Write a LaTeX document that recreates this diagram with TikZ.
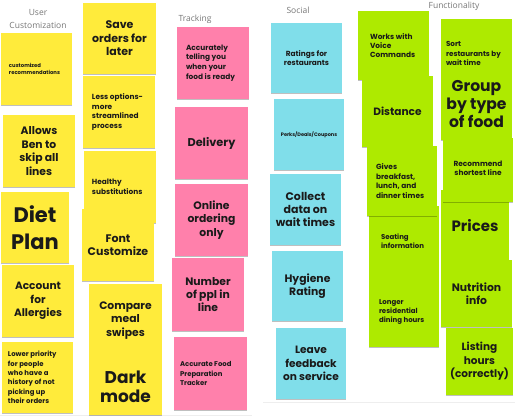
\documentclass[tikz,border=0pt]{standalone}
\usepackage{fontspec}
\setmainfont{Poppins}
\newfontfamily\hdrfont{Open Sans}
\usetikzlibrary{shadows}
\definecolor{stYellow}{HTML}{FFEB3B}
\definecolor{stPink}{HTML}{FF80AB}
\definecolor{stCyan}{HTML}{80DEEA}
\definecolor{stLime}{HTML}{AEEA00}
\definecolor{hdrGray}{HTML}{777777}
\definecolor{stInk}{HTML}{1A1A1A}
\definecolor{frameLine}{HTML}{EEEEEE}
\tikzset{
  stickybox/.style={draw=none, inner sep=0pt,
    drop shadow={shadow xshift=0.4pt, shadow yshift=-1pt, opacity=0.25, fill=black}},
  stxt/.style={inner sep=0pt, text=stInk},
  hdr/.style={inner sep=0pt, text=hdrGray, align=center, font=\hdrfont\fontsize{8.5}{13}\selectfont},
}
% name, cx, cy, w, h, fill
\newcommand\stk[6]{\node[stickybox, fill=#6, minimum width=#4pt, minimum height=#5pt] (#1) at (#2pt,-#3pt) {};}
% centered text: name, size, skip, text
\newcommand\ctx[4]{\node[stxt, align=center, font=\bfseries\fontsize{#2}{#3}\selectfont] (#1t) at (#1) {#4};}
% left text: name, pad, size, skip, text
\newcommand\ltx[5]{\node[stxt, align=left, anchor=west, font=\bfseries\fontsize{#3}{#4}\selectfont] (#1t) at ([xshift=#2pt]#1.west) {#5};}
\begin{document}
\begin{tikzpicture}[x=1pt,y=1pt]
\useasboundingbox (0,0) rectangle (515,-418);
\fill[white] (0,0) rectangle (515,-418);
% faint frame edges
\draw[frameLine, line width=0.8pt] (0,-415.5) -- (252,-415.5);
\draw[frameLine, line width=0.8pt] (263,-402.5) -- (515,-402.5);

% headers
\node[hdr] (hUser) at (38,-19.5) {User\\Customization};
\node[hdr] (hTrack) at (195,-19) {Tracking};
\node[hdr] (hSocial) at (298,-10) {Social};
\node[hdr] (hFunc) at (454,-6) {Functionality};

% ---- User customization (yellow) ----
\stk{cust}{36.5}{69}{71}{72}{stYellow}
\ltx{cust}{8}{5.3}{6.4}{customized\\recommendations}
\stk{save}{119.5}{38.5}{73}{71}{stYellow}
\ctx{save}{11}{13.4}{Save\\orders for\\later}
\stk{less}{119}{112}{72}{72}{stYellow}
\ltx{less}{9}{7.4}{9.6}{Less options-\\more\\streamlined\\process}
\stk{allows}{39}{151}{72}{72}{stYellow}
\ctx{allows}{10.8}{13.4}{Allows\\Ben to\\skip all\\lines}
\stk{healthy}{120}{187}{72}{72}{stYellow}
\ltx{healthy}{8}{7.4}{9.6}{Healthy\\substitutions}
\stk{fontc}{118}{245}{72}{72}{stYellow}
\ctx{fontc}{11}{13}{Font\\Customize}
\stk{diet}{35}{227.5}{68}{71}{stYellow}
\ctx{diet}{21}{27}{Diet\\Plan}
\stk{account}{38}{301}{72}{72}{stYellow}
\ctx{account}{10.6}{13.4}{Account\\for\\Allergies}
\stk{compare}{125.5}{320.5}{73}{73}{stYellow}
\ctx{compare}{10.8}{13.4}{Compare\\meal\\swipes}
\stk{dark}{125.5}{383.5}{73}{63}{stYellow}
\node[stxt, align=center, font=\bfseries\fontsize{17}{19}\selectfont] (darkt) at ([yshift=-3pt]dark.center) {Dark\\mode};
\stk{lower}{37.5}{377.5}{71}{71}{stYellow}
\ltx{lower}{6}{6.9}{9.3}{Lower priority\\for people\\who have a\\history of not\\picking up\\their orders}

% ---- Tracking (pink) ----
\stk{accurately}{213}{63}{72}{72}{stPink}
\ltx{accurately}{9}{7.4}{9.6}{Accurately\\telling you\\when your\\food is ready}
\stk{delivery}{211.5}{143}{73}{72}{stPink}
\ctx{delivery}{11.3}{13.4}{Delivery}
\stk{online}{211.5}{220}{73}{72}{stPink}
\ctx{online}{10.8}{13.4}{Online\\ordering\\only}
\stk{number}{208}{294.5}{72}{73}{stPink}
\ctx{number}{10.8}{13.4}{Number\\of ppl in\\line}
\stk{accfood}{210.5}{373.5}{73}{73}{stPink}
\ltx{accfood}{6}{6.9}{9.4}{Accurate Food\\Preparation\\Tracker}

% ---- Social (cyan) ----
\stk{ratings}{306.5}{58}{71}{70}{stCyan}
\ctx{ratings}{7.4}{9.4}{Ratings for\\restaurants}
\stk{perks}{309}{134.5}{70}{71}{stCyan}
\ctx{perks}{5}{6}{Perks/Deals/Coupons}
\stk{collect}{305.5}{209.5}{71}{71}{stCyan}
\ctx{collect}{11}{13.4}{Collect\\data on\\wait times}
\stk{hygiene}{307.5}{286}{71}{70}{stCyan}
\ctx{hygiene}{10.8}{13.4}{Hygiene\\Rating}
\stk{leave}{311}{363.5}{70}{71}{stCyan}
\ctx{leave}{10.6}{13.4}{Leave\\feedback\\on service}

% ---- Functionality (lime) ----
\stk{works}{393.5}{45.5}{71}{69}{stLime}
\ltx{works}{12}{7.4}{9.4}{Works with\\Voice\\Commands}
\stk{sort}{476.5}{53.5}{71}{69}{stLime}
\ltx{sort}{5}{7.2}{9.4}{Sort\\restaurants by\\wait time}
\stk{distance}{397.5}{111.5}{71}{71}{stLime}
\ctx{distance}{10.6}{13.4}{Distance}
\stk{group}{476.5}{104}{71}{72}{stLime}
\ctx{group}{15.6}{18.3}{Group\\by type\\of food}
\stk{seating}{404}{241.5}{70}{71}{stLime}
\ltx{seating}{12}{7}{9.3}{Seating\\information}
\stk{gives}{402}{181}{70}{70}{stLime}
\ltx{gives}{9}{7.4}{9.4}{Gives\\breakfast,\\lunch, and\\dinner times}
\stk{prices}{475}{226}{68}{72}{stLime}
\ctx{prices}{15}{16}{Prices}
\stk{recommend}{478}{170}{70}{64}{stLime}
\node[stxt, align=center, font=\bfseries\fontsize{7.4}{9.4}\selectfont] (recommendt) at ([yshift=2pt]recommend.center) {Recommend\\shortest line};
\stk{longer}{404}{312}{70}{70}{stLime}
\ltx{longer}{10}{7}{9.4}{Longer\\residential\\dining hours}
\stk{nutrition}{476.5}{293.5}{71}{67}{stLime}
\ctx{nutrition}{10.8}{12.8}{Nutrition\\info}
\stk{listing}{479.5}{361.5}{67}{67}{stLime}
\ctx{listing}{10.5}{13.4}{Listing\\hours\\(correctly)}
\end{tikzpicture}
\end{document}
